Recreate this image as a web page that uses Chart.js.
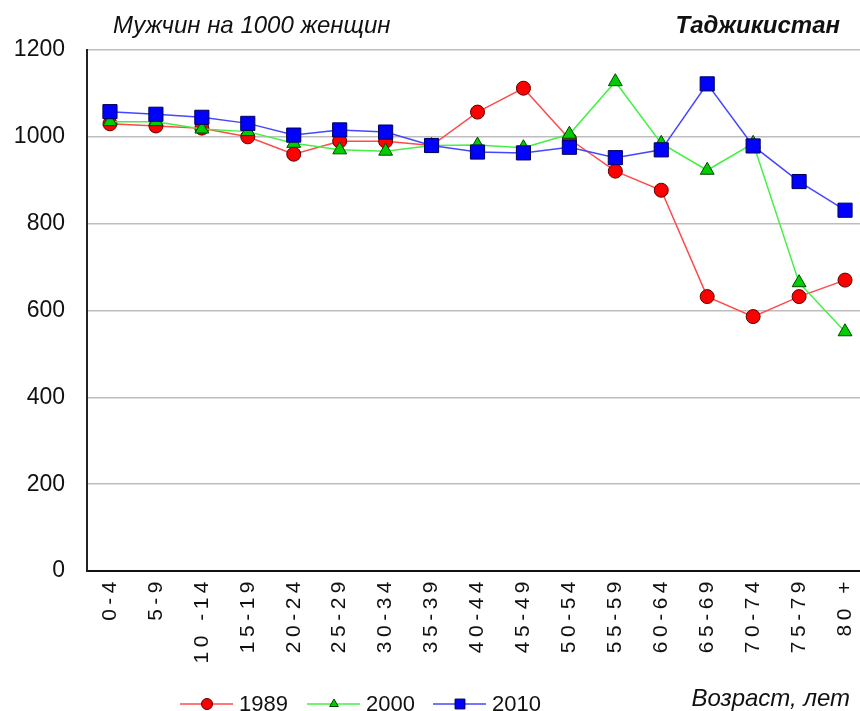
<!DOCTYPE html>
<html>
<head>
<meta charset="utf-8">
<script src="https://cdn.jsdelivr.net/npm/chart.js@4.4.1/dist/chart.umd.min.js"></script>
<style>
    html, body { margin: 0; padding: 0; background: #fff; overflow: hidden; }
    #wrap { width: 879px; height: 711px; }
</style>
</head>
<body>
<div id="wrap"><canvas id="sexRatio" width="879" height="711"></canvas></div>
<script>
const ageGroups = ['0-4', '5-9', '10 -14', '15-19', '20-24', '25-29', '30-34', '35-39', '40-44',
    '45-49', '50-54', '55-59', '60-64', '65-69', '70-74', '75-79', '80 +'];
const men1989 = [1030, 1025, 1020, 1000, 960, 990, 990, 980, 1057, 1112, 995, 921, 877, 632, 586, 632, 670];
const men2000 = [1035, 1035, 1018, 1012, 985, 970, 967, 980, 981, 975, 1006, 1127, 985, 923, 985, 664, 551];
const men2010 = [1058, 1052, 1045, 1031, 1004, 1016, 1011, 980, 965, 963, 976, 952, 970, 1122, 979, 897, 831];
const yTicks = [0, 200, 400, 600, 800, 1000, 1200];

const FONT = "'Liberation Sans', Arial, sans-serif";

// the age labels in the original are spaced out, so widen the letters while the x axis draws them
const spacedLabels = {
    id: 'spacedLabels',
    afterLayout(chart) {
        const xs = chart.scales.x;
        if (!xs || xs._spaced) return;
        const orig = xs.drawLabels;
        xs.drawLabels = function (area) {
            const ctx = this.ctx;
            ctx.save();
            ctx.letterSpacing = '4.5px';
            orig.call(this, area);
            ctx.restore();
        };
        xs._spaced = true;
    }
};

// title, country name, axis caption and the line+marker legend
const captions = {
    id: 'captions',
    afterDraw(chart) {
        const ctx = chart.ctx;
        ctx.save();
        ctx.fillStyle = '#111';
        ctx.textBaseline = 'alphabetic';
        ctx.textAlign = 'left';
        ctx.font = 'italic 24px ' + FONT;
        ctx.fillText('Мужчин на 1000 женщин', 113, 33);
        ctx.textAlign = 'right';
        ctx.font = 'italic bold 24px ' + FONT;
        ctx.fillText('Таджикистан', 840, 33);
        ctx.font = 'italic 24px ' + FONT;
        ctx.fillText('Возраст, лет', 850, 706);

        const starts = [180, 307, 433];
        const legendY = 704;
        chart.data.datasets.forEach((ds, i) => {
            const x0 = starts[i];
            ctx.strokeStyle = ds.borderColor;
            ctx.lineWidth = 1.5;
            ctx.beginPath();
            ctx.moveTo(x0, legendY);
            ctx.lineTo(x0 + 53, legendY);
            ctx.stroke();
            ctx.fillStyle = ds.pointBackgroundColor;
            ctx.strokeStyle = ds.pointBorderColor;
            ctx.lineWidth = 1;
            Chart.helpers.drawPoint(ctx, {
                pointStyle: ds.pointStyle,
                radius: ds.legendRadius,
                rotation: 0,
                borderWidth: 1
            }, x0 + 27, legendY);
            ctx.fillStyle = '#111';
            ctx.textAlign = 'left';
            ctx.textBaseline = 'middle';
            ctx.font = '22px ' + FONT;
            ctx.fillText(ds.label, x0 + 59, legendY + 1);
        });
        ctx.restore();
    }
};

new Chart(document.getElementById('sexRatio'), {
    type: 'line',
    data: {
        labels: ageGroups,
        datasets: [
            {
                label: '1989', data: men1989, borderColor: '#FF4A4A', borderWidth: 1.5,
                pointStyle: 'circle', pointRadius: 7, legendRadius: 5.5,
                pointBackgroundColor: '#FF0000', pointBorderColor: '#5A0000', pointBorderWidth: 1, order: 3
            },
            {
                label: '2000', data: men2000, borderColor: '#44F044', borderWidth: 1.5,
                pointStyle: 'triangle', pointRadius: 8, legendRadius: 5,
                pointBackgroundColor: '#00CC00', pointBorderColor: '#004A00', pointBorderWidth: 1, order: 2
            },
            {
                label: '2010', data: men2010, borderColor: '#4646FF', borderWidth: 1.5,
                pointStyle: 'rect', pointRadius: 10, legendRadius: 7,
                pointBackgroundColor: '#0000FF', pointBorderColor: '#00005A', pointBorderWidth: 1, order: 1
            }
        ]
    },
    options: {
        responsive: false,
        animation: false,
        layout: { padding: { top: 50, right: 2, left: 0, bottom: 0 } },
        plugins: { legend: { display: false }, tooltip: { enabled: false } },
        scales: {
            x: {
                offset: true,
                grid: { display: false, drawTicks: false },
                border: { display: true, color: '#111', width: 2 },
                ticks: {
                    autoSkip: false, minRotation: 90, maxRotation: 90, padding: 6,
                    color: '#111', font: { family: FONT, size: 21 }
                },
                afterFit(scale) {
                    scale.height = 140;
                    scale.paddingLeft = 0;
                    scale.paddingRight = 0;
                }
            },
            y: {
                min: 0, max: 1200,
                afterBuildTicks(scale) { scale.ticks = yTicks.map(v => ({ value: v })); },
                grid: { color: '#BDBDBD', lineWidth: 1.5, drawTicks: false },
                border: { display: true, color: '#222', width: 2 },
                ticks: { padding: 22, color: '#111', font: { family: FONT, size: 23 }, callback: v => String(v) },
                afterFit(scale) { scale.width = 87; }
            }
        }
    },
    plugins: [spacedLabels, captions]
});
</script>
</body>
</html>
